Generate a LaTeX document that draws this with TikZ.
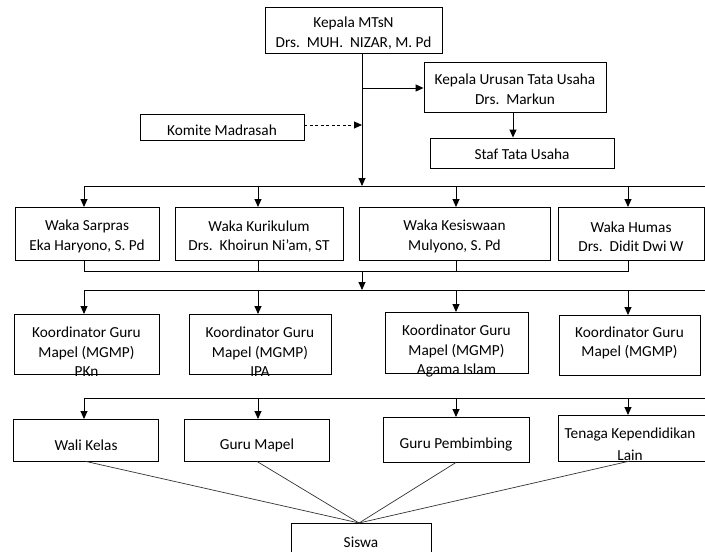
\documentclass[tikz,border=0pt]{standalone}
\usepackage{fontspec}
\setmainfont{Carlito}
\usetikzlibrary{arrows.meta}
\begin{document}
\begin{tikzpicture}[x=1pt,y=-1pt,
  box/.style={draw, line width=0.9pt, inner sep=0pt},
  txt/.style={font=\fontsize{15.3}{19.5}\selectfont, align=center, inner sep=0pt},
  arr/.style={-{Triangle[length=8pt,width=7pt]}, line width=0.9pt},
  darr/.style={-{Triangle[length=8pt,width=7pt]}, line width=0.9pt, dash pattern=on 3pt off 2.5pt},
  ln/.style={line width=0.9pt},
  sl/.style={line width=0.7pt, draw=black!80}]
\useasboundingbox (0,0) rectangle (705,552);
% boxes
\node[box, minimum width=177pt, minimum height=46pt] (kep) at (353.5,30) {};
\node[txt] (kepT) at (353.5,33) {Kepala MTsN\\Drs.~~MUH.~~NIZAR, M. Pd};
\node[box, minimum width=182pt, minimum height=50pt] (ktu) at (515,87) {};
\node[txt] (ktuT) at (515,89) {Kepala Urusan Tata Usaha\\Drs.~~Markun};
\node[box, minimum width=184pt, minimum height=30pt] (staf) at (522,153) {};
\node[txt] (stafT) at (522,154) {Staf Tata Usaha};
\node[box, minimum width=164pt, minimum height=26pt] (kom) at (222,127) {};
\node[txt] (komT) at (222,130) {Komite Madrasah};
% waka
\node[box, minimum width=144pt, minimum height=53pt] (w1) at (87,233.5) {};
\node[txt] (w1T) at (87,236.5) {Waka Sarpras\\Eka Haryono, S. Pd};
\node[box, minimum width=168pt, minimum height=53pt] (w2) at (259,233.5) {};
\node[txt] (w2T) at (259,236.5) {Waka Kurikulum\\Drs.~~Khoirun Ni’am, ST};
\node[box, minimum width=191pt, minimum height=53pt] (w3) at (454.5,233.5) {};
\node[txt] (w3T) at (454.5,236.5) {Waka Kesiswaan\\Mulyono, S. Pd};
\node[box, minimum width=146pt, minimum height=53pt] (w4) at (631,233.5) {};
\node[txt] (w4T) at (631,236.5) {Waka Humas\\Drs.~~Didit Dwi W};
% koordinator
\node[box, minimum width=145pt, minimum height=60pt] (k1) at (86.5,344) {};
\node[txt] (k1T) at (86.5,352) {Koordinator Guru\\Mapel (MGMP)\\PKn};
\node[box, minimum width=142pt, minimum height=60pt] (k2) at (260,344) {};
\node[txt] (k2T) at (260,352) {Koordinator Guru\\Mapel (MGMP)\\IPA};
\node[box, minimum width=143pt, minimum height=61pt] (k3) at (456.5,342.5) {};
\node[txt] (k3T) at (456.5,351) {Koordinator Guru\\Mapel (MGMP)\\Agama Islam};
\node[box, minimum width=141pt, minimum height=60pt] (k4) at (629.5,345) {};
\node[txt] (k4T) at (629.5,343) {Koordinator Guru\\Mapel (MGMP)};
% bottom row
\node[box, minimum width=145pt, minimum height=42pt] (b1) at (86,440) {};
\node[txt] (b1T) at (86,445) {Wali Kelas};
\node[box, minimum width=145pt, minimum height=42pt] (b2) at (257,440) {};
\node[txt] (b2T) at (257,445) {Guru Mapel};
\node[box, minimum width=146pt, minimum height=45pt] (b3) at (456,439.5) {};
\node[txt] (b3T) at (456,444) {Guru Pembimbing};
\node[box, minimum width=148pt, minimum height=46pt] (b4) at (632,438) {};
\node[txt] (b4T) at (630,444) {Tenaga Kependidikan\\[3pt]Lain};
\node[box, minimum width=140pt, minimum height=40pt] (sis) at (361,543) {};
\node[txt] (sisT) at (361,542) {Siswa};
% coordinates
\coordinate (j1) at (362,88);
\coordinate (j2) at (362,125);
\coordinate (j3) at (362,186);
\coordinate (h1L) at (84,186);
\coordinate (h1R) at (705,186);
\coordinate (m1) at (362,271);
\coordinate (m2) at (362,290);
\coordinate (h2L) at (84,290);
\coordinate (h2R) at (705,290);
\coordinate (h3L) at (84,398);
\coordinate (h3R) at (705,398);
\coordinate (conv) at (359,523);
% connectors top
\draw[ln] (kep.south -| j1) -- (j1);
\draw[arr] (j1) -- (ktu.west |- j1);
\draw[arr] (j1) -- (j3);
\draw[arr] (ktu.south -| 513,0) -- (staf.north -| 513,0);
\draw[darr] (kom.east |- j2) -- (j2);
\draw[ln] (h1L) -- (h1R);
\draw[arr] (h1L) -- (84,207);
\draw[arr] (258,186) -- (258,207);
\draw[arr] (456,186) -- (456,207);
\draw[arr] (628,186) -- (628,207);
% waka to koordinator
\draw[ln] (w1.south -| 84,0) |- (m1);
\draw[ln] (w4.south -| 628,0) |- (m1);
\draw[ln] (w2.south -| 258,0) -- (258,271);
\draw[ln] (w3.south -| 456,0) -- (456,271);
\draw[arr] (m1) -- (m2);
\draw[ln] (h2L) -- (h2R);
\draw[arr] (h2L) -- (84,314);
\draw[arr] (258,290) -- (258,314);
\draw[arr] (456,290) -- (456,312);
\draw[arr] (628,290) -- (628,315);
% third level
\draw[ln] (h3L) -- (h3R);
\draw[arr] (h3L) -- (84,419);
\draw[arr] (258,398) -- (258,419);
\draw[arr] (456,398) -- (456,417);
\draw[arr] (628,398) -- (628,415);
% to siswa
\draw[sl] (b1.south) -- (conv);
\draw[sl] (b2.south) -- (conv);
\draw[sl] (b3.south) -- (conv);
\draw[sl] (630,461) -- (conv);
\end{tikzpicture}
\end{document}
